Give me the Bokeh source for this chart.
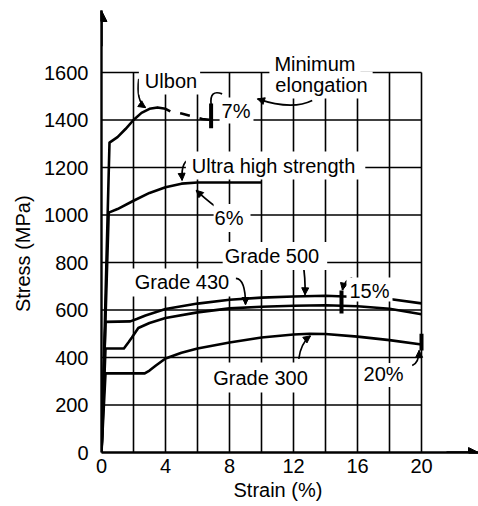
from bokeh.plotting import figure
from bokeh.models import Range1d, FixedTicker, Label, Arrow, NormalHead, ColumnDataSource, Title
from bokeh.embed import file_html
from bokeh.resources import INLINE

# ---------------- data ----------------
x_ticks = [0, 4, 8, 12, 16, 20]
y_ticks = [0, 200, 400, 600, 800, 1000, 1200, 1400, 1600]
grid_strain = [2, 4, 6, 8, 10, 12, 14, 16, 18, 20]
grid_stress = [200, 400, 600, 800, 1000, 1200, 1400, 1600]

ulbon_strain = [0, 0.5, 1.0, 1.5, 2.0, 2.5, 3.0, 3.5, 4.0, 4.3]
ulbon_stress = [0, 1305, 1328, 1362, 1400, 1430, 1447, 1453, 1447, 1436]
ulbon_tail_strain = [4.3, 5.0, 5.7, 6.3, 6.85]
ulbon_tail_stress = [1436, 1427, 1415, 1404, 1400]

ultra_strain = [0, 0.45, 1.0, 2.0, 3.0, 4.0, 5.0, 6.0, 8.0, 10.0]
ultra_stress = [0, 1010, 1025, 1060, 1093, 1117, 1132, 1137, 1137, 1137]

g500_strain = [0, 0.25, 1.8, 2.2, 2.75, 4.0, 6.0, 8.0, 10.0, 12.0, 14.0, 16.0, 18.0, 20.0]
g500_stress = [0, 550, 552, 562, 577, 604, 627, 643, 652, 657, 660, 655, 646, 628]

g430_strain = [0, 0.25, 1.4, 1.7, 1.9, 2.3, 3.0, 4.0, 6.0, 8.0, 10.0, 12.0, 14.0, 16.0, 18.0, 20.0]
g430_stress = [0, 438, 438, 465, 484, 524, 545, 566, 590, 607, 614, 618, 620, 616, 605, 582]

g300_strain = [0, 0.25, 2.7, 3.0, 3.4, 4.0, 5.0, 6.0, 8.0, 10.0, 12.0, 13.0, 14.0, 16.0, 18.0, 20.0]
g300_stress = [0, 333, 333, 345, 366, 396, 420, 438, 463, 484, 497, 500, 499, 488, 473, 455]

# minimum elongation marks (strain, low stress, high stress)
elong_strain = [6.85, 15.0, 20.0]
elong_low = [1365, 585, 430]
elong_high = [1470, 682, 500]

# ---------------- layout ----------------
W, H = 478, 506
LEFT, RIGHT, TOP, BOTTOM = 101, 0, 10, 54
PX_PER_STRAIN = 16.0
PX_PER_MPA = 0.2375
X_END = (W - LEFT - RIGHT) / PX_PER_STRAIN
Y_END = (H - TOP - BOTTOM) / PX_PER_MPA
FONT = "Liberation Sans"
FS = "20px"
NBSP = "\u00a0"

p = figure(width=W, height=H, x_range=Range1d(0, X_END), y_range=Range1d(0, Y_END),
           output_backend="svg", toolbar_location=None,
           min_border_left=LEFT, min_border_right=RIGHT,
           min_border_top=TOP, min_border_bottom=BOTTOM)
p.xgrid.visible = False
p.ygrid.visible = False
p.outline_line_color = None
p.background_fill_color = "white"
p.border_fill_color = "white"

for ax in (p.xaxis, p.yaxis):
    ax.axis_line_width = 2.4
    ax.axis_line_color = "black"
    ax.major_tick_out = 0
    ax.major_tick_in = 0
    ax.minor_tick_out = 0
    ax.minor_tick_in = 0
    ax.major_label_text_font = FONT
    ax.major_label_text_font_size = FS
    ax.major_label_text_color = "black"
    ax.axis_label_text_font = FONT
    ax.axis_label_text_font_size = FS
    ax.axis_label_text_font_style = "normal"
    ax.axis_label_text_color = "black"
p.xaxis.ticker = FixedTicker(ticks=x_ticks)
p.yaxis.ticker = FixedTicker(ticks=y_ticks)
p.xaxis.major_label_standoff = 6
p.yaxis.major_label_standoff = 13
# y title: trailing no-break spaces move the visible words down along the axis
p.yaxis.axis_label = "Stress (MPa)" + NBSP * 8
p.yaxis.axis_label_standoff = 7

# x title as a side title so it can be offset along the axis
p.add_layout(Title(text="Strain (%)", text_font=FONT, text_font_size=FS,
                   text_font_style="normal", text_color="black", align="left",
                   offset=132, standoff=3), "below")

# grid drawn from the tick arrays
x_max_grid = grid_strain[-1]
y_max_grid = grid_stress[-1]
p.segment(x0=[0] * len(grid_stress), y0=grid_stress, x1=[x_max_grid] * len(grid_stress),
          y1=grid_stress, line_color="black", line_width=1.6)
p.segment(x0=grid_strain, y0=[0] * len(grid_strain), x1=grid_strain,
          y1=[y_max_grid] * len(grid_strain), line_color="black", line_width=1.6)

# curves
curve_kw = dict(line_color="black", line_width=2.6, line_join="round")
p.line(ulbon_strain, ulbon_stress, **curve_kw)
p.line(ulbon_tail_strain, ulbon_tail_stress, line_dash="10 10", line_dash_offset=10, **curve_kw)
p.line(ultra_strain, ultra_stress, **curve_kw)
p.line(g500_strain, g500_stress, **curve_kw)
p.line(g430_strain, g430_stress, **curve_kw)
p.line(g300_strain, g300_stress, **curve_kw)

# elongation bars
p.segment(x0=elong_strain, y0=elong_low, x1=elong_strain, y1=elong_high,
          line_color="black", line_width=4)

# callout curves: (x0, y0, cx, cy, x1, y1, arrowhead)
callouts = [
    (2.33, 1573, 2.15, 1480, 2.75, 1452, True),     # Ulbon
    (7.54, 1510, 6.75, 1530, 6.85, 1466, False),    # 7% bracket
    (13.17, 1482, 11.9, 1440, 9.75, 1489, True),    # Minimum elongation
    (5.67, 1235, 4.95, 1235, 5.04, 1146, True),     # Ultra high strength
    (7.23, 1030, 6.45, 1070, 5.92, 1104, True),     # 6%
    (12.58, 800, 12.75, 740, 12.72, 664, True),     # Grade 500
    (8.4, 733, 9.0, 730, 9.0, 623, True),           # Grade 430
    (12.33, 394, 12.45, 460, 13.06, 491, True),     # Grade 300
    (15.67, 735, 15.2, 728, 15.06, 684, True),      # 15%
    (19.42, 366, 19.85, 380, 19.85, 430, True),     # 20%
]
p.quadratic(x0=[c[0] for c in callouts], y0=[c[1] for c in callouts],
            cx=[c[2] for c in callouts], cy=[c[3] for c in callouts],
            x1=[c[4] for c in callouts], y1=[c[5] for c in callouts],
            line_color="black", line_width=1.7)

heads = [c for c in callouts if c[6]]
head_src = ColumnDataSource(dict(
    xs=[c[4] - 0.2 * (c[4] - c[2]) for c in heads],
    ys=[c[5] - 0.2 * (c[5] - c[3]) for c in heads],
    xe=[c[4] for c in heads],
    ye=[c[5] for c in heads],
))
p.add_layout(Arrow(end=NormalHead(size=7, fill_color="black", line_color="black", line_width=1),
                   x_start="xs", y_start="ys", x_end="xe", y_end="ye", source=head_src,
                   line_color="black", line_width=1.7))

# axis arrows
p.add_layout(Arrow(end=NormalHead(size=11, fill_color="black", line_color="black"),
                   x_start=0, y_start=Y_END - 150, x_end=0, y_end=Y_END,
                   line_color="black", line_width=2.4))
p.add_layout(Arrow(end=NormalHead(size=10, fill_color="black", line_color="black"),
                   x_start=X_END - 2, y_start=0, x_end=X_END, y_end=0,
                   line_color="black", line_width=2.4))


def add_label(text, x, y, pad=(3, 3, 3, 3)):
    t, r, b, l = pad
    p.add_layout(Label(text=text, x=x, y=y, text_font=FONT, text_font_size=FS,
                       text_color="black", text_align="center", text_baseline="alphabetic",
                       background_fill_color="white",
                       padding=dict(left=l, right=r, top=t, bottom=b)))


add_label("Ulbon", 4.25, 1566, pad=(3, 3, 3, 6))
add_label("Minimum", 13.34, 1638, pad=(3, 5, 2, 5))
add_label("elongation", 13.75, 1547, pad=(2, 5, 3, 5))
add_label("7%", 8.44, 1440, pad=(2, 3, 2, 2))
add_label("Ultra high strength", 10.88, 1208, pad=(3, 10, 3, 6))
add_label("6%", 8.16, 987, pad=(3, 7, 3, 1))
add_label("Grade 500", 10.84, 827, pad=(3, 8, 3, 2))
add_label("Grade 430", 5.03, 716, pad=(3, 3, 3, 3))
add_label("Grade 300", 9.97, 316, pad=(5, 14, 3, 13))
add_label("15%", 16.75, 686, pad=(2, 3, 0, 3))
add_label("20%", 17.63, 326, pad=(0, 4, 2, 4))

open("out.html", "w").write(file_html(p, INLINE))
